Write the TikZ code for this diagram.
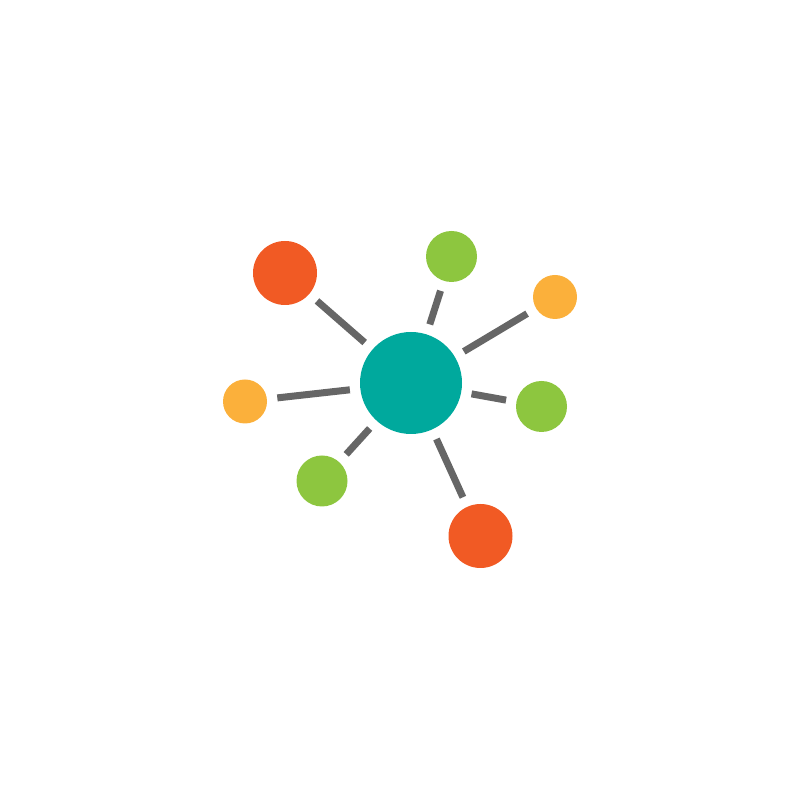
\documentclass[tikz,border=0pt]{standalone}
\definecolor{hubteal}{HTML}{00A99D}
\definecolor{dotred}{HTML}{F15A24}
\definecolor{dotgreen}{HTML}{8DC63F}
\definecolor{dotorange}{HTML}{FBB03B}
\definecolor{linkgray}{HTML}{666666}
\begin{document}
\begin{tikzpicture}[
        every node/.style={circle, inner sep=0pt, outer sep=0.105cm}
    ]
    \tikzset{
        hub/.style = {fill=hubteal, minimum size=1.02cm},
        bigdot/.style = {fill=dotred, minimum size=0.64cm},
        middot/.style = {fill=dotgreen, minimum size=0.51cm},
        smalldot/.style = {fill=dotorange, minimum size=0.44cm},
        link/.style = {draw=linkgray, line width=0.07cm}
    }
    \useasboundingbox (0,0) rectangle (8,8);
    \node[hub] (hub) at (4.11,4.17) {};
    \node[bigdot] (redA) at (2.85,5.27) {};
    \node[middot] (greenA) at (4.515,5.435) {};
    \node[smalldot] (orangeA) at (5.55,5.03) {};
    \node[smalldot] (orangeB) at (2.45,3.985) {};
    \node[middot] (greenB) at (5.415,3.935) {};
    \node[middot] (greenC) at (3.22,3.19) {};
    \node[bigdot] (redB) at (4.805,2.64) {};
    % spokes
    \foreach \sat in {redA,greenA,orangeA,orangeB,greenB,greenC,redB}
        \draw[link] (hub) -- (\sat);
\end{tikzpicture}
\end{document}
